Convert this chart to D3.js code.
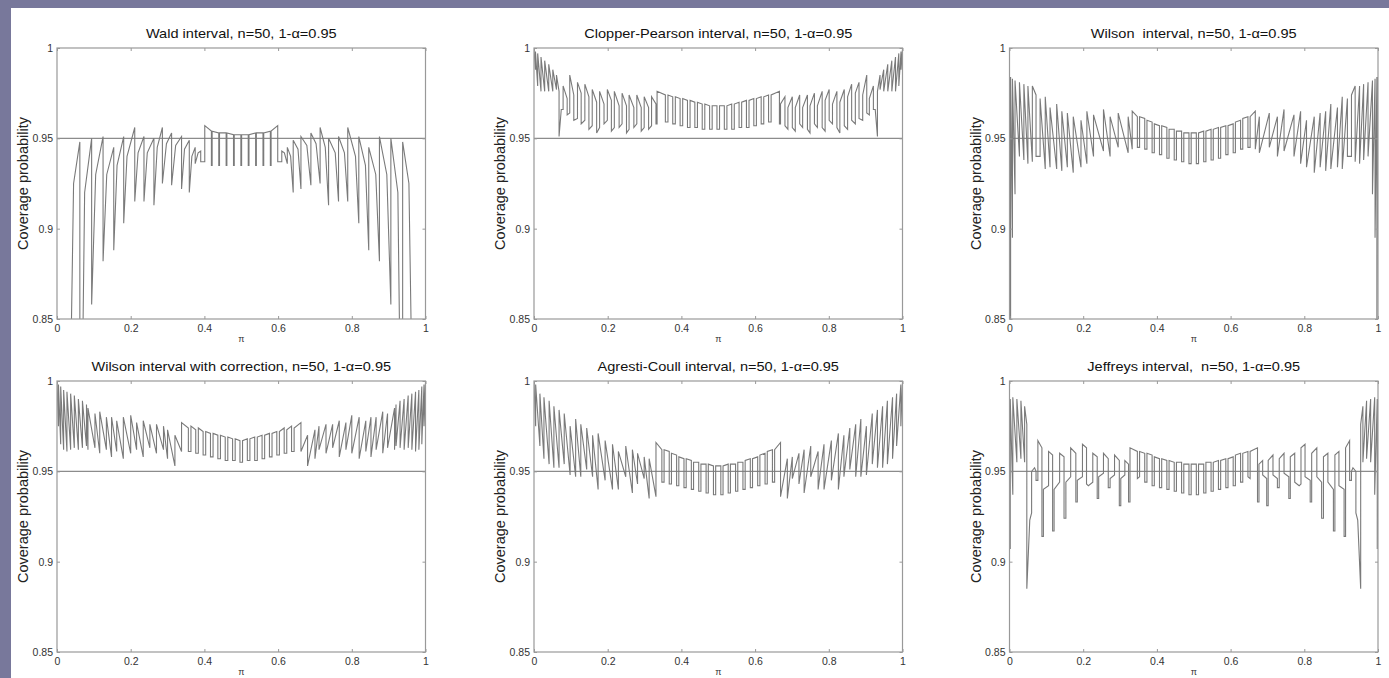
<!DOCTYPE html>
<html>
<head>
<meta charset="utf-8">
<script src="https://cdn.jsdelivr.net/npm/d3@7"></script>
<style>
  body { margin: 0; background: #78789b; }
  svg text { font-family: "Liberation Sans", Arial, Helvetica, sans-serif; }
</style>
</head>
<body>
<svg id="fig" width="1389" height="678"></svg>
<script>
// each entry: [pi, coverage just before the jump, coverage just after the jump]
// values (n = 50, 1-alpha = 0.95)
var waldCurve = [
  [0.000, 0.700, 0.700], [0.028, 0.700, 0.700], [0.045, 0.925, 0.925], [0.062, 0.948, 0.700],
  [0.075, 0.920, 0.920], [0.094, 0.950, 0.858], [0.105, 0.930, 0.930], [0.125, 0.951, 0.882],
  [0.135, 0.930, 0.930], [0.154, 0.945, 0.888], [0.163, 0.935, 0.935], [0.181, 0.951, 0.903],
  [0.190, 0.940, 0.940], [0.211, 0.956, 0.915], [0.220, 0.942, 0.942], [0.236, 0.951, 0.915],
  [0.245, 0.942, 0.942], [0.263, 0.950, 0.913], [0.272, 0.945, 0.945], [0.286, 0.956, 0.925],
  [0.297, 0.947, 0.947], [0.311, 0.953, 0.924], [0.322, 0.946, 0.946], [0.338, 0.951, 0.922],
  [0.346, 0.944, 0.944], [0.359, 0.949, 0.920], [0.366, 0.940, 0.940], [0.375, 0.945, 0.936],
  [0.383, 0.942, 0.942], [0.390, 0.943, 0.937], [0.401, 0.937, 0.957], [0.419, 0.954, 0.935],
  [0.421, 0.935, 0.954], [0.439, 0.953, 0.935], [0.441, 0.935, 0.953], [0.459, 0.953, 0.935],
  [0.461, 0.935, 0.953], [0.479, 0.952, 0.935], [0.481, 0.935, 0.952], [0.499, 0.952, 0.935],
  [0.501, 0.935, 0.952], [0.519, 0.952, 0.935], [0.521, 0.935, 0.952], [0.539, 0.953, 0.935],
  [0.541, 0.935, 0.953], [0.559, 0.953, 0.935], [0.561, 0.935, 0.953], [0.579, 0.954, 0.935],
  [0.581, 0.935, 0.954], [0.599, 0.957, 0.937], [0.610, 0.937, 0.943], [0.617, 0.942, 0.942],
  [0.625, 0.936, 0.945], [0.634, 0.940, 0.940], [0.641, 0.920, 0.949], [0.654, 0.944, 0.944],
  [0.662, 0.922, 0.951], [0.678, 0.946, 0.946], [0.689, 0.924, 0.953], [0.703, 0.947, 0.947],
  [0.714, 0.925, 0.956], [0.728, 0.945, 0.945], [0.737, 0.913, 0.950], [0.755, 0.942, 0.942],
  [0.764, 0.915, 0.951], [0.780, 0.942, 0.942], [0.789, 0.915, 0.956], [0.810, 0.940, 0.940],
  [0.819, 0.903, 0.951], [0.837, 0.935, 0.935], [0.846, 0.888, 0.945], [0.865, 0.930, 0.930],
  [0.875, 0.882, 0.951], [0.895, 0.930, 0.930], [0.906, 0.858, 0.950], [0.925, 0.920, 0.920],
  [0.938, 0.700, 0.948], [0.955, 0.925, 0.925], [0.972, 0.700, 0.700], [1.000, 0.700, 0.700]
];

var clopperCurve = [
  [0.000, 0.999, 0.999], [0.004, 0.988, 0.998], [0.010, 0.979, 0.997], [0.019, 0.976, 0.995],
  [0.029, 0.976, 0.993], [0.040, 0.976, 0.991], [0.051, 0.976, 0.988], [0.061, 0.977, 0.985],
  [0.068, 0.976, 0.951], [0.074, 0.966, 0.966], [0.079, 0.966, 0.979], [0.090, 0.972, 0.963],
  [0.097, 0.964, 0.985], [0.108, 0.974, 0.960], [0.118, 0.961, 0.981], [0.128, 0.975, 0.958],
  [0.138, 0.960, 0.980], [0.149, 0.973, 0.955], [0.158, 0.957, 0.977], [0.170, 0.970, 0.953],
  [0.178, 0.956, 0.976], [0.190, 0.969, 0.958], [0.199, 0.960, 0.977], [0.210, 0.971, 0.954],
  [0.218, 0.956, 0.976], [0.231, 0.968, 0.956], [0.239, 0.958, 0.975], [0.251, 0.968, 0.953],
  [0.258, 0.955, 0.974], [0.271, 0.967, 0.956], [0.279, 0.958, 0.974], [0.291, 0.967, 0.954],
  [0.299, 0.956, 0.973], [0.311, 0.967, 0.955], [0.319, 0.957, 0.973], [0.331, 0.969, 0.958],
  [0.334, 0.958, 0.976], [0.3565, 0.974, 0.959], [0.3635, 0.959, 0.974], [0.3765, 0.973, 0.958],
  [0.3835, 0.958, 0.973], [0.3965, 0.972, 0.957], [0.4035, 0.957, 0.972], [0.4165, 0.971, 0.956],
  [0.4235, 0.956, 0.971], [0.4365, 0.970, 0.956], [0.4435, 0.956, 0.970], [0.4565, 0.969, 0.955],
  [0.4635, 0.955, 0.969], [0.4765, 0.968, 0.955], [0.4835, 0.955, 0.968], [0.4965, 0.968, 0.955],
  [0.5035, 0.955, 0.968], [0.5165, 0.968, 0.955], [0.5235, 0.955, 0.968], [0.5365, 0.969, 0.955],
  [0.5435, 0.955, 0.969], [0.5565, 0.970, 0.956], [0.5635, 0.956, 0.970], [0.5765, 0.971, 0.956],
  [0.5835, 0.956, 0.971], [0.5965, 0.972, 0.957], [0.6035, 0.957, 0.972], [0.6165, 0.973, 0.958],
  [0.6235, 0.958, 0.973], [0.6365, 0.974, 0.959], [0.6435, 0.959, 0.974], [0.666, 0.976, 0.958],
  [0.669, 0.958, 0.969], [0.681, 0.973, 0.957], [0.689, 0.955, 0.967], [0.701, 0.973, 0.956],
  [0.709, 0.954, 0.967], [0.721, 0.974, 0.958], [0.729, 0.956, 0.967], [0.742, 0.974, 0.955],
  [0.749, 0.953, 0.968], [0.761, 0.975, 0.958], [0.769, 0.956, 0.968], [0.782, 0.976, 0.956],
  [0.790, 0.954, 0.971], [0.801, 0.977, 0.960], [0.810, 0.958, 0.969], [0.822, 0.976, 0.956],
  [0.830, 0.953, 0.970], [0.842, 0.977, 0.957], [0.851, 0.955, 0.973], [0.862, 0.980, 0.960],
  [0.872, 0.958, 0.975], [0.882, 0.981, 0.961], [0.892, 0.960, 0.974], [0.903, 0.985, 0.964],
  [0.910, 0.963, 0.972], [0.921, 0.979, 0.966], [0.926, 0.966, 0.966], [0.932, 0.951, 0.976],
  [0.939, 0.985, 0.977], [0.949, 0.988, 0.976], [0.960, 0.991, 0.976], [0.971, 0.993, 0.976],
  [0.981, 0.995, 0.976], [0.990, 0.997, 0.979], [0.996, 0.998, 0.988], [1.000, 0.999, 0.999]
];

var wilsonCurve = [
  [0.000, 0.984, 0.984], [0.003, 0.840, 0.984], [0.008, 0.895, 0.983], [0.015, 0.919, 0.982],
  [0.027, 0.940, 0.981], [0.039, 0.938, 0.980], [0.050, 0.936, 0.979], [0.062, 0.937, 0.979],
  [0.072, 0.974, 0.940], [0.083, 0.940, 0.972], [0.097, 0.933, 0.973], [0.110, 0.934, 0.967],
  [0.128, 0.933, 0.969], [0.142, 0.932, 0.965], [0.157, 0.934, 0.964], [0.173, 0.931, 0.962],
  [0.194, 0.934, 0.960], [0.210, 0.936, 0.965], [0.228, 0.940, 0.963], [0.255, 0.943, 0.966],
  [0.273, 0.940, 0.962], [0.295, 0.945, 0.964], [0.322, 0.942, 0.962], [0.333, 0.944, 0.965],
  [0.347, 0.962, 0.945], [0.353, 0.945, 0.962], [0.367, 0.961, 0.944], [0.373, 0.944, 0.960],
  [0.387, 0.959, 0.942], [0.393, 0.942, 0.958], [0.407, 0.957, 0.941], [0.413, 0.941, 0.957],
  [0.427, 0.956, 0.939], [0.433, 0.939, 0.955], [0.447, 0.955, 0.938], [0.453, 0.938, 0.954],
  [0.467, 0.954, 0.937], [0.473, 0.937, 0.953], [0.487, 0.953, 0.936], [0.493, 0.936, 0.953],
  [0.507, 0.953, 0.936], [0.513, 0.936, 0.953], [0.527, 0.954, 0.937], [0.533, 0.937, 0.954],
  [0.547, 0.955, 0.938], [0.553, 0.938, 0.955], [0.567, 0.956, 0.939], [0.573, 0.939, 0.956],
  [0.587, 0.957, 0.941], [0.593, 0.941, 0.957], [0.607, 0.958, 0.942], [0.613, 0.942, 0.959],
  [0.627, 0.960, 0.944], [0.633, 0.944, 0.961], [0.647, 0.962, 0.945], [0.653, 0.945, 0.962],
  [0.667, 0.965, 0.944], [0.678, 0.962, 0.942], [0.705, 0.964, 0.945], [0.727, 0.962, 0.940],
  [0.745, 0.966, 0.943], [0.772, 0.963, 0.940], [0.790, 0.965, 0.936], [0.806, 0.960, 0.934],
  [0.827, 0.962, 0.931], [0.843, 0.964, 0.934], [0.858, 0.965, 0.932], [0.872, 0.969, 0.933],
  [0.890, 0.967, 0.934], [0.903, 0.973, 0.933], [0.917, 0.972, 0.940], [0.928, 0.940, 0.974],
  [0.938, 0.979, 0.937], [0.950, 0.979, 0.936], [0.961, 0.980, 0.938], [0.973, 0.981, 0.940],
  [0.985, 0.982, 0.919], [0.992, 0.983, 0.895], [0.997, 0.984, 0.840], [1.000, 0.984, 0.984]
];

var wilsonCcCurve = [
  [0.000, 0.999, 0.999], [0.004, 0.975, 0.998], [0.010, 0.965, 0.997], [0.018, 0.962, 0.995],
  [0.027, 0.961, 0.994], [0.037, 0.962, 0.993], [0.047, 0.963, 0.992], [0.058, 0.962, 0.990],
  [0.069, 0.963, 0.989], [0.080, 0.964, 0.987], [0.084, 0.962, 0.985], [0.103, 0.963, 0.982],
  [0.116, 0.960, 0.983], [0.134, 0.962, 0.980], [0.148, 0.958, 0.980], [0.162, 0.961, 0.978],
  [0.180, 0.957, 0.980], [0.200, 0.960, 0.981], [0.216, 0.962, 0.977], [0.234, 0.958, 0.978],
  [0.252, 0.963, 0.976], [0.270, 0.960, 0.976], [0.289, 0.962, 0.975], [0.300, 0.957, 0.973],
  [0.320, 0.953, 0.970], [0.338, 0.961, 0.977], [0.3565, 0.974, 0.961], [0.3635, 0.961, 0.975],
  [0.3765, 0.973, 0.960], [0.3835, 0.960, 0.974], [0.3965, 0.972, 0.959], [0.4035, 0.959, 0.972],
  [0.4165, 0.971, 0.958], [0.4235, 0.958, 0.971], [0.4365, 0.970, 0.957], [0.4435, 0.957, 0.970],
  [0.4565, 0.969, 0.956], [0.4635, 0.956, 0.969], [0.4765, 0.968, 0.956], [0.4835, 0.956, 0.968],
  [0.4965, 0.967, 0.955], [0.5035, 0.955, 0.967], [0.5165, 0.968, 0.956], [0.5235, 0.956, 0.968],
  [0.5365, 0.969, 0.956], [0.5435, 0.956, 0.969], [0.5565, 0.970, 0.957], [0.5635, 0.957, 0.970],
  [0.5765, 0.971, 0.958], [0.5835, 0.958, 0.971], [0.5965, 0.972, 0.959], [0.6035, 0.959, 0.972],
  [0.6165, 0.974, 0.960], [0.6235, 0.960, 0.973], [0.6365, 0.975, 0.961], [0.6435, 0.961, 0.974],
  [0.662, 0.977, 0.961], [0.680, 0.970, 0.953], [0.700, 0.973, 0.957], [0.711, 0.975, 0.962],
  [0.730, 0.976, 0.960], [0.748, 0.976, 0.963], [0.766, 0.978, 0.958], [0.784, 0.977, 0.962],
  [0.800, 0.981, 0.960], [0.820, 0.980, 0.957], [0.838, 0.978, 0.961], [0.852, 0.980, 0.958],
  [0.866, 0.980, 0.962], [0.884, 0.983, 0.960], [0.897, 0.982, 0.963], [0.916, 0.985, 0.962],
  [0.920, 0.987, 0.964], [0.931, 0.989, 0.963], [0.942, 0.990, 0.962], [0.953, 0.992, 0.963],
  [0.963, 0.993, 0.962], [0.973, 0.994, 0.961], [0.982, 0.995, 0.962], [0.990, 0.997, 0.965],
  [0.996, 0.998, 0.975], [1.000, 0.999, 0.999]
];

var agrestiCurve = [
  [0.000, 0.999, 0.999], [0.0045, 0.975, 0.998], [0.016, 0.964, 0.993], [0.027, 0.957, 0.991],
  [0.041, 0.954, 0.989], [0.054, 0.952, 0.986], [0.068, 0.952, 0.984], [0.082, 0.954, 0.982],
  [0.098, 0.948, 0.975], [0.113, 0.947, 0.979], [0.127, 0.947, 0.976], [0.143, 0.951, 0.974],
  [0.159, 0.947, 0.970], [0.174, 0.940, 0.971], [0.193, 0.945, 0.967], [0.213, 0.940, 0.965],
  [0.229, 0.940, 0.961], [0.249, 0.947, 0.964], [0.267, 0.938, 0.962], [0.281, 0.943, 0.960],
  [0.299, 0.946, 0.958], [0.3125, 0.935, 0.957], [0.331, 0.936, 0.966], [0.347, 0.962, 0.944],
  [0.353, 0.944, 0.962], [0.367, 0.961, 0.943], [0.373, 0.943, 0.960], [0.387, 0.959, 0.942],
  [0.393, 0.942, 0.958], [0.407, 0.957, 0.941], [0.413, 0.941, 0.957], [0.427, 0.956, 0.940],
  [0.433, 0.940, 0.955], [0.447, 0.955, 0.939], [0.453, 0.939, 0.954], [0.467, 0.954, 0.938],
  [0.473, 0.938, 0.954], [0.487, 0.953, 0.937], [0.493, 0.937, 0.953], [0.507, 0.953, 0.937],
  [0.513, 0.937, 0.953], [0.527, 0.954, 0.938], [0.533, 0.938, 0.954], [0.547, 0.954, 0.939],
  [0.553, 0.939, 0.955], [0.567, 0.955, 0.940], [0.573, 0.940, 0.956], [0.587, 0.957, 0.941],
  [0.593, 0.941, 0.957], [0.607, 0.958, 0.942], [0.613, 0.942, 0.959], [0.627, 0.960, 0.943],
  [0.633, 0.943, 0.961], [0.647, 0.962, 0.944], [0.653, 0.944, 0.962], [0.669, 0.966, 0.936],
  [0.6875, 0.957, 0.935], [0.701, 0.958, 0.946], [0.719, 0.960, 0.943], [0.733, 0.962, 0.938],
  [0.751, 0.964, 0.947], [0.771, 0.961, 0.940], [0.787, 0.965, 0.940], [0.807, 0.967, 0.945],
  [0.826, 0.971, 0.940], [0.841, 0.970, 0.947], [0.857, 0.974, 0.951], [0.873, 0.976, 0.947],
  [0.887, 0.979, 0.947], [0.902, 0.975, 0.948], [0.918, 0.982, 0.954], [0.932, 0.984, 0.952],
  [0.946, 0.986, 0.952], [0.959, 0.989, 0.954], [0.973, 0.991, 0.957], [0.984, 0.993, 0.964],
  [0.9955, 0.998, 0.975], [1.000, 0.999, 0.999]
];

var jeffreysCurve = [
  [0.000, 0.990, 0.990], [0.002, 0.907, 0.990], [0.009, 0.937, 0.991], [0.020, 0.955, 0.990],
  [0.031, 0.957, 0.989], [0.041, 0.955, 0.986], [0.047, 0.976, 0.885], [0.055, 0.923, 0.923],
  [0.060, 0.927, 0.950], [0.068, 0.952, 0.952], [0.072, 0.950, 0.945], [0.077, 0.945, 0.967],
  [0.088, 0.963, 0.914], [0.092, 0.914, 0.940], [0.106, 0.942, 0.961], [0.117, 0.959, 0.917],
  [0.121, 0.917, 0.940], [0.136, 0.944, 0.960], [0.148, 0.958, 0.924], [0.153, 0.924, 0.944],
  [0.166, 0.947, 0.963], [0.180, 0.960, 0.933], [0.184, 0.933, 0.945], [0.198, 0.947, 0.965],
  [0.209, 0.963, 0.943], [0.214, 0.942, 0.942], [0.226, 0.944, 0.960], [0.238, 0.958, 0.935],
  [0.242, 0.935, 0.947], [0.255, 0.949, 0.960], [0.268, 0.957, 0.941], [0.273, 0.941, 0.946],
  [0.285, 0.948, 0.959], [0.298, 0.956, 0.931], [0.302, 0.931, 0.946], [0.313, 0.948, 0.956],
  [0.323, 0.954, 0.933], [0.327, 0.933, 0.963], [0.347, 0.961, 0.946], [0.353, 0.947, 0.961],
  [0.367, 0.960, 0.944], [0.373, 0.944, 0.960], [0.387, 0.959, 0.942], [0.393, 0.942, 0.958],
  [0.407, 0.957, 0.941], [0.413, 0.941, 0.957], [0.427, 0.956, 0.940], [0.433, 0.940, 0.956],
  [0.447, 0.955, 0.939], [0.453, 0.939, 0.955], [0.467, 0.955, 0.938], [0.473, 0.938, 0.954],
  [0.487, 0.954, 0.937], [0.493, 0.937, 0.954], [0.507, 0.954, 0.937], [0.513, 0.937, 0.954],
  [0.527, 0.954, 0.938], [0.533, 0.938, 0.955], [0.547, 0.955, 0.939], [0.553, 0.939, 0.955],
  [0.567, 0.956, 0.940], [0.573, 0.940, 0.956], [0.587, 0.957, 0.941], [0.593, 0.941, 0.957],
  [0.607, 0.958, 0.942], [0.613, 0.942, 0.959], [0.627, 0.960, 0.944], [0.633, 0.944, 0.960],
  [0.647, 0.961, 0.947], [0.653, 0.946, 0.961], [0.673, 0.963, 0.933], [0.677, 0.933, 0.954],
  [0.687, 0.956, 0.948], [0.698, 0.946, 0.931], [0.702, 0.931, 0.956], [0.715, 0.959, 0.948],
  [0.727, 0.946, 0.941], [0.732, 0.941, 0.957], [0.745, 0.960, 0.949], [0.758, 0.947, 0.935],
  [0.762, 0.935, 0.958], [0.774, 0.960, 0.944], [0.786, 0.942, 0.942], [0.791, 0.943, 0.963],
  [0.802, 0.965, 0.947], [0.816, 0.945, 0.933], [0.820, 0.933, 0.960], [0.834, 0.963, 0.947],
  [0.847, 0.944, 0.924], [0.852, 0.924, 0.958], [0.864, 0.960, 0.944], [0.879, 0.940, 0.917],
  [0.883, 0.917, 0.959], [0.894, 0.961, 0.942], [0.908, 0.940, 0.914], [0.912, 0.914, 0.963],
  [0.923, 0.967, 0.945], [0.928, 0.945, 0.950], [0.932, 0.952, 0.952], [0.940, 0.950, 0.927],
  [0.945, 0.923, 0.923], [0.953, 0.885, 0.976], [0.959, 0.986, 0.955], [0.969, 0.989, 0.957],
  [0.980, 0.990, 0.955], [0.991, 0.991, 0.937], [0.998, 0.990, 0.907], [1.000, 0.990, 0.990]
];

var titles = [
  "Wald interval, n=50, 1-\u03b1=0.95",
  "Clopper-Pearson interval, n=50, 1-\u03b1=0.95",
  "Wilson  interval, n=50, 1-\u03b1=0.95",
  "Wilson interval with correction, n=50, 1-\u03b1=0.95",
  "Agresti-Coull interval, n=50, 1-\u03b1=0.95",
  "Jeffreys interval,  n=50, 1-\u03b1=0.95"
];
var curves = [waldCurve, clopperCurve, wilsonCurve, wilsonCcCurve, agrestiCurve, jeffreysCurve];
var xTicks = [0, 0.2, 0.4, 0.6, 0.8, 1];
var yTicks = [0.85, 0.9, 0.95, 1];
var nominalLevel = 0.95;

// panel placement (plot area of each axes)
var colLeft = [57, 534, 1009.5];
var rowTop = [48, 381];
var plotW = 368.5, plotH = 271;

var svg = d3.select("#fig");

// white figure area, blue-grey border on left and top
svg.append("rect")
  .attr("x", 11).attr("y", 8)
  .attr("width", 1389 - 11).attr("height", 678 - 8)
  .attr("fill", "#ffffff");

var fmt = d3.format("~g");

curves.forEach(function (curve, i) {
  var left = colLeft[i % 3];
  var top = rowTop[Math.floor(i / 3)];

  var x = d3.scaleLinear().domain([0, 1]).range([0, plotW]);
  var y = d3.scaleLinear().domain([0.85, 1]).range([plotH, 0]);

  var g = svg.append("g").attr("transform", "translate(" + left + "," + top + ")");

  g.append("clipPath").attr("id", "clip" + i)
    .append("rect").attr("width", plotW).attr("height", plotH);

  // reference line at the nominal level
  g.append("line")
    .attr("x1", 0).attr("x2", plotW)
    .attr("y1", y(nominalLevel)).attr("y2", y(nominalLevel))
    .attr("stroke", "#8c8c8c").attr("stroke-width", 1.1);

  // coverage curve: each jump gives a vertical step
  var pts = [];
  curve.forEach(function (d) {
    pts.push([d[0], d[1]]);
    if (d[2] !== d[1]) pts.push([d[0], d[2]]);
  });
  var line = d3.line()
    .x(function (d) { return x(d[0]); })
    .y(function (d) { return y(d[1]); });
  g.append("path")
    .datum(pts)
    .attr("clip-path", "url(#clip" + i + ")")
    .attr("d", line)
    .attr("fill", "none")
    .attr("stroke", "#7a7a7a")
    .attr("stroke-width", 1.1);

  // axes, matlab style: inward ticks on all four sides
  var axisStyle = function (sel) {
    sel.select(".domain").remove();
    sel.selectAll(".tick line").attr("stroke", "#999");
    sel.selectAll(".tick text")
      .attr("fill", "#333")
      .style("font-size", "10.5px");
  };
  g.append("g")
    .attr("transform", "translate(0," + plotH + ")")
    .call(d3.axisBottom(x).tickValues(xTicks).tickFormat(fmt).tickSizeInner(-3).tickSizeOuter(0).tickPadding(6))
    .call(axisStyle);
  g.append("g")
    .call(d3.axisTop(x).tickValues(xTicks).tickFormat("").tickSizeInner(-3).tickSizeOuter(0))
    .call(axisStyle);
  g.append("g")
    .call(d3.axisLeft(y).tickValues(yTicks).tickFormat(fmt).tickSizeInner(-3).tickSizeOuter(0).tickPadding(4))
    .call(axisStyle);
  g.append("g")
    .attr("transform", "translate(" + plotW + ",0)")
    .call(d3.axisRight(y).tickValues(yTicks).tickFormat("").tickSizeInner(-3).tickSizeOuter(0))
    .call(axisStyle);

  // box
  g.append("rect")
    .attr("width", plotW).attr("height", plotH)
    .attr("fill", "none")
    .attr("stroke", "#999").attr("stroke-width", 1.2);

  // title
  g.append("text")
    .attr("transform", "translate(" + (plotW / 2) + ",-10) scale(1.12,1)")
    .attr("text-anchor", "middle")
    .style("font-size", "13px")
    .style("white-space", "pre")
    .attr("fill", "#111")
    .text(titles[i]);

  // axis labels
  g.append("text")
    .attr("transform", "translate(-29," + (plotH / 2) + ") rotate(-90)")
    .attr("text-anchor", "middle")
    .style("font-size", "14.5px")
    .attr("fill", "#222")
    .text("Coverage probability");
  g.append("text")
    .attr("x", plotW / 2).attr("y", plotH + 23)
    .attr("text-anchor", "middle")
    .style("font-size", "9px")
    .attr("fill", "#333")
    .text("\u03c0");
});
</script>
</body>
</html>
